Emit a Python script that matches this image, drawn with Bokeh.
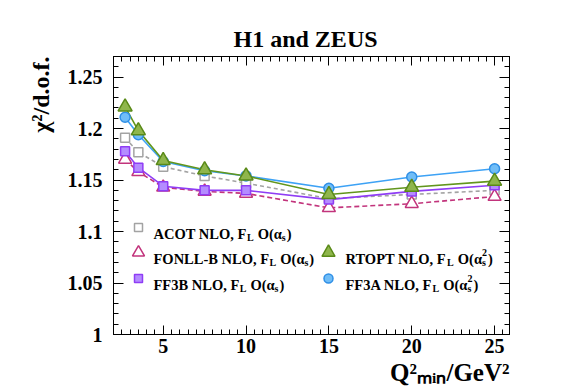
import numpy as np
from bokeh.plotting import figure
from bokeh.models import LinearAxis, FixedTicker, Label, Range1d, NumeralTickFormatter, Title
from bokeh.embed import file_html
from bokeh.resources import INLINE

# ---------------- data ----------------
q2min = [2.7, 3.5, 5, 7.5, 10, 15, 20, 25]
acot = [1.191, 1.177, 1.163, 1.154, 1.147, 1.132, 1.136, 1.140]
fonll = [1.170, 1.158, 1.143, 1.139, 1.137, 1.123, 1.127, 1.134]
ff3b = [1.178, 1.162, 1.144, 1.140, 1.140, 1.131, 1.139, 1.145]
rtopt = [1.221, 1.198, 1.169, 1.160, 1.154, 1.136, 1.143, 1.149]
ff3a = [1.211, 1.194, 1.168, 1.159, 1.154, 1.142, 1.153, 1.161]

x_ticks = [5, 10, 15, 20, 25]
y_ticks = [1.0, 1.05, 1.1, 1.15, 1.2, 1.25]

title_text = "H1 and ZEUS"
x_title = "Q²ₘᵢₙ/GeV²"
y_title = "χ²/d.o.f."

# ---------------- layout ----------------
X0, X1 = 2.0, 25.9
Y0, Y1 = 1.0, 1.27
W, H = 567, 391
BL, BR, BT, BB = 113, 58, 56, 57
FW = W - BL - BR
FH = H - BT - BB
FONT = "Liberation Serif"

p = figure(width=W, height=H, x_range=Range1d(X0, X1), y_range=Range1d(Y0, Y1),
           output_backend="svg", toolbar_location=None, title=None,
           min_border_left=BL, min_border_right=BR, min_border_top=BT, min_border_bottom=BB)
p.xgrid.visible = False
p.ygrid.visible = False
p.outline_line_color = "black"
p.background_fill_color = "white"
p.border_fill_color = "white"

x_minor = list(np.round(np.arange(2.0, 26.0, 0.5), 2))
y_minor = list(np.round(np.arange(1.0, 1.271, 0.01), 3))
xt = FixedTicker(ticks=x_ticks, minor_ticks=x_minor)
yt = FixedTicker(ticks=y_ticks, minor_ticks=y_minor)


def style_axis(ax, major, minor, labels, standoff):
    ax.axis_line_color = "black"
    ax.axis_line_width = 1
    ax.major_tick_in = major
    ax.major_tick_out = 0
    ax.minor_tick_in = minor
    ax.minor_tick_out = 0
    ax.major_tick_line_color = "black"
    ax.minor_tick_line_color = "black"
    ax.major_label_text_font = FONT
    ax.major_label_text_font_style = "bold"
    ax.major_label_standoff = standoff
    if labels:
        ax.major_label_text_color = "black"
        ax.major_label_text_font_size = "20px"
    else:
        ax.major_label_text_color = None
        ax.major_label_text_font_size = "1px"
        ax.major_label_standoff = 0


xa = p.xaxis[0]
xa.ticker = xt
style_axis(xa, 9, 5, True, 4)
ya = p.yaxis[0]
ya.ticker = yt
ya.formatter = NumeralTickFormatter(format="0.[00]")
style_axis(ya, 10, 5, True, 11)

top_ax = LinearAxis(ticker=xt)
style_axis(top_ax, 9, 5, False, 0)
p.add_layout(top_ax, "above")
right_ax = LinearAxis(ticker=yt)
style_axis(right_ax, 10, 5, False, 0)
p.add_layout(right_ax, "right")

# titles (outside the frame)
p.add_layout(Title(text=title_text, text_font=FONT, text_font_style="bold", text_font_size="24px",
                   text_color="black", align="left", offset=120, vertical_align="bottom",
                   standoff=9), "above")
p.add_layout(Title(text=x_title, text_font=FONT, text_font_style="bold", text_font_size="25px",
                   text_color="black", align="right", vertical_align="top", standoff=7), "below")
p.add_layout(Title(text=y_title, text_font=FONT, text_font_style="bold", text_font_size="24px",
                   text_color="black", align="right", vertical_align="bottom", standoff=22), "left")

# ---------------- series ----------------
styles = {
    "acot": dict(line="#a3a3a3", fill="white", mline="#a3a3a3", marker="square", size=9, dash="4 3"),
    "fonll": dict(line="#c2347c", fill="white", mline="#c2347c", marker="triangle", size=13, dash="5 3"),
    "ff3b": dict(line="#8f3df5", fill="#b48cff", mline="#8f3df5", marker="square", size=9, dash="solid"),
    "ff3a": dict(line="#3da2f5", fill="#70bdf7", mline="#2f8fe6", marker="circle", size=10, dash="solid"),
    "rtopt": dict(line="#62961c", fill="#8fb64c", mline="#5a8a18", marker="triangle", size=14, dash="solid"),
}
series = [("acot", acot), ("fonll", fonll), ("ff3b", ff3b), ("ff3a", ff3a), ("rtopt", rtopt)]

for key, vals in series:
    s = styles[key]
    p.line(q2min, vals, line_color=s["line"], line_width=1.6, line_dash=s["dash"])
for key, vals in series:
    s = styles[key]
    p.scatter(q2min, vals, marker=s["marker"], size=s["size"], fill_color=s["fill"],
              line_color=s["mline"], line_width=1.5)


# ---------------- helpers for legend text ----------------
def img2data(xi, yi):
    fx = xi - BL
    fy = yi - BT
    return X0 + fx / FW * (X1 - X0), Y1 - fy / FH * (Y1 - Y0)


CW = {' ': 0.25, ',': 0.25, '-': 0.333, '.': 0.25, '/': 0.278, '(': 0.333, ')': 0.333,
      'A': 0.722, 'B': 0.667, 'C': 0.722, 'D': 0.722, 'E': 0.667, 'F': 0.611, 'G': 0.778,
      'H': 0.778, 'I': 0.389, 'L': 0.667, 'N': 0.722, 'O': 0.778, 'P': 0.611, 'R': 0.722,
      'S': 0.556, 'T': 0.667, 'U': 0.722, 'V': 0.722, 'Z': 0.667, 'a': 0.5, 'd': 0.556,
      'e': 0.444, 'f': 0.333, 'i': 0.278, 'm': 0.833, 'n': 0.556, 'o': 0.5, 's': 0.389,
      'χ': 0.55, 'α': 0.52}


def tw(text, size):
    return sum(CW.get(c, 0.5) for c in text) * size


def txt(xi, yi, text, size, align="left"):
    x, y = img2data(xi, yi)
    p.add_layout(Label(x=x, y=y, text=text, text_font=FONT, text_font_style="bold",
                       text_font_size=f"{size}px", text_color="black", text_align=align,
                       text_baseline="alphabetic"))


# ---------------- legend ----------------
legend_entries = [
    ("acot", "ACOT NLO, F", "1", 138, 153, 227, 233),
    ("fonll", "FONLL-B NLO, F", "1", 138, 153, 252, 258),
    ("ff3b", "FF3B NLO, F", "1", 138, 153, 278, 284),
    ("rtopt", "RTOPT NLO, F", "2", 328, 345, 252, 258),
    ("ff3a", "FF3A NLO, F", "2", 328, 345, 278, 284),
]
for key, main, order, mx, tx, my, base in legend_entries:
    s = styles[key]
    lx, ly = img2data(mx, my)
    p.scatter([lx], [ly], marker=s["marker"], size=s["size"] - 1, fill_color=s["fill"],
              line_color=s["mline"], line_width=1.5)
    fs = 14.5
    ss = 10
    x = tx
    txt(x, base, main, fs)
    x += tw(main, fs) + 0.5
    txt(x, base + 4, "L", ss)
    x += tw("L", ss) + 4
    txt(x, base, "O(α", fs)
    x += tw("O(α", fs) + 0.5
    if order == "1":
        txt(x, base + 4, "s", ss)
        x += tw("s", ss) + 1
    else:
        txt(x, base - 6, "2", ss)
        txt(x, base + 4, "s", ss)
        x += tw("2", ss) + 1
    txt(x, base, ")", fs)

open("out.html", "w").write(file_html(p, INLINE))
